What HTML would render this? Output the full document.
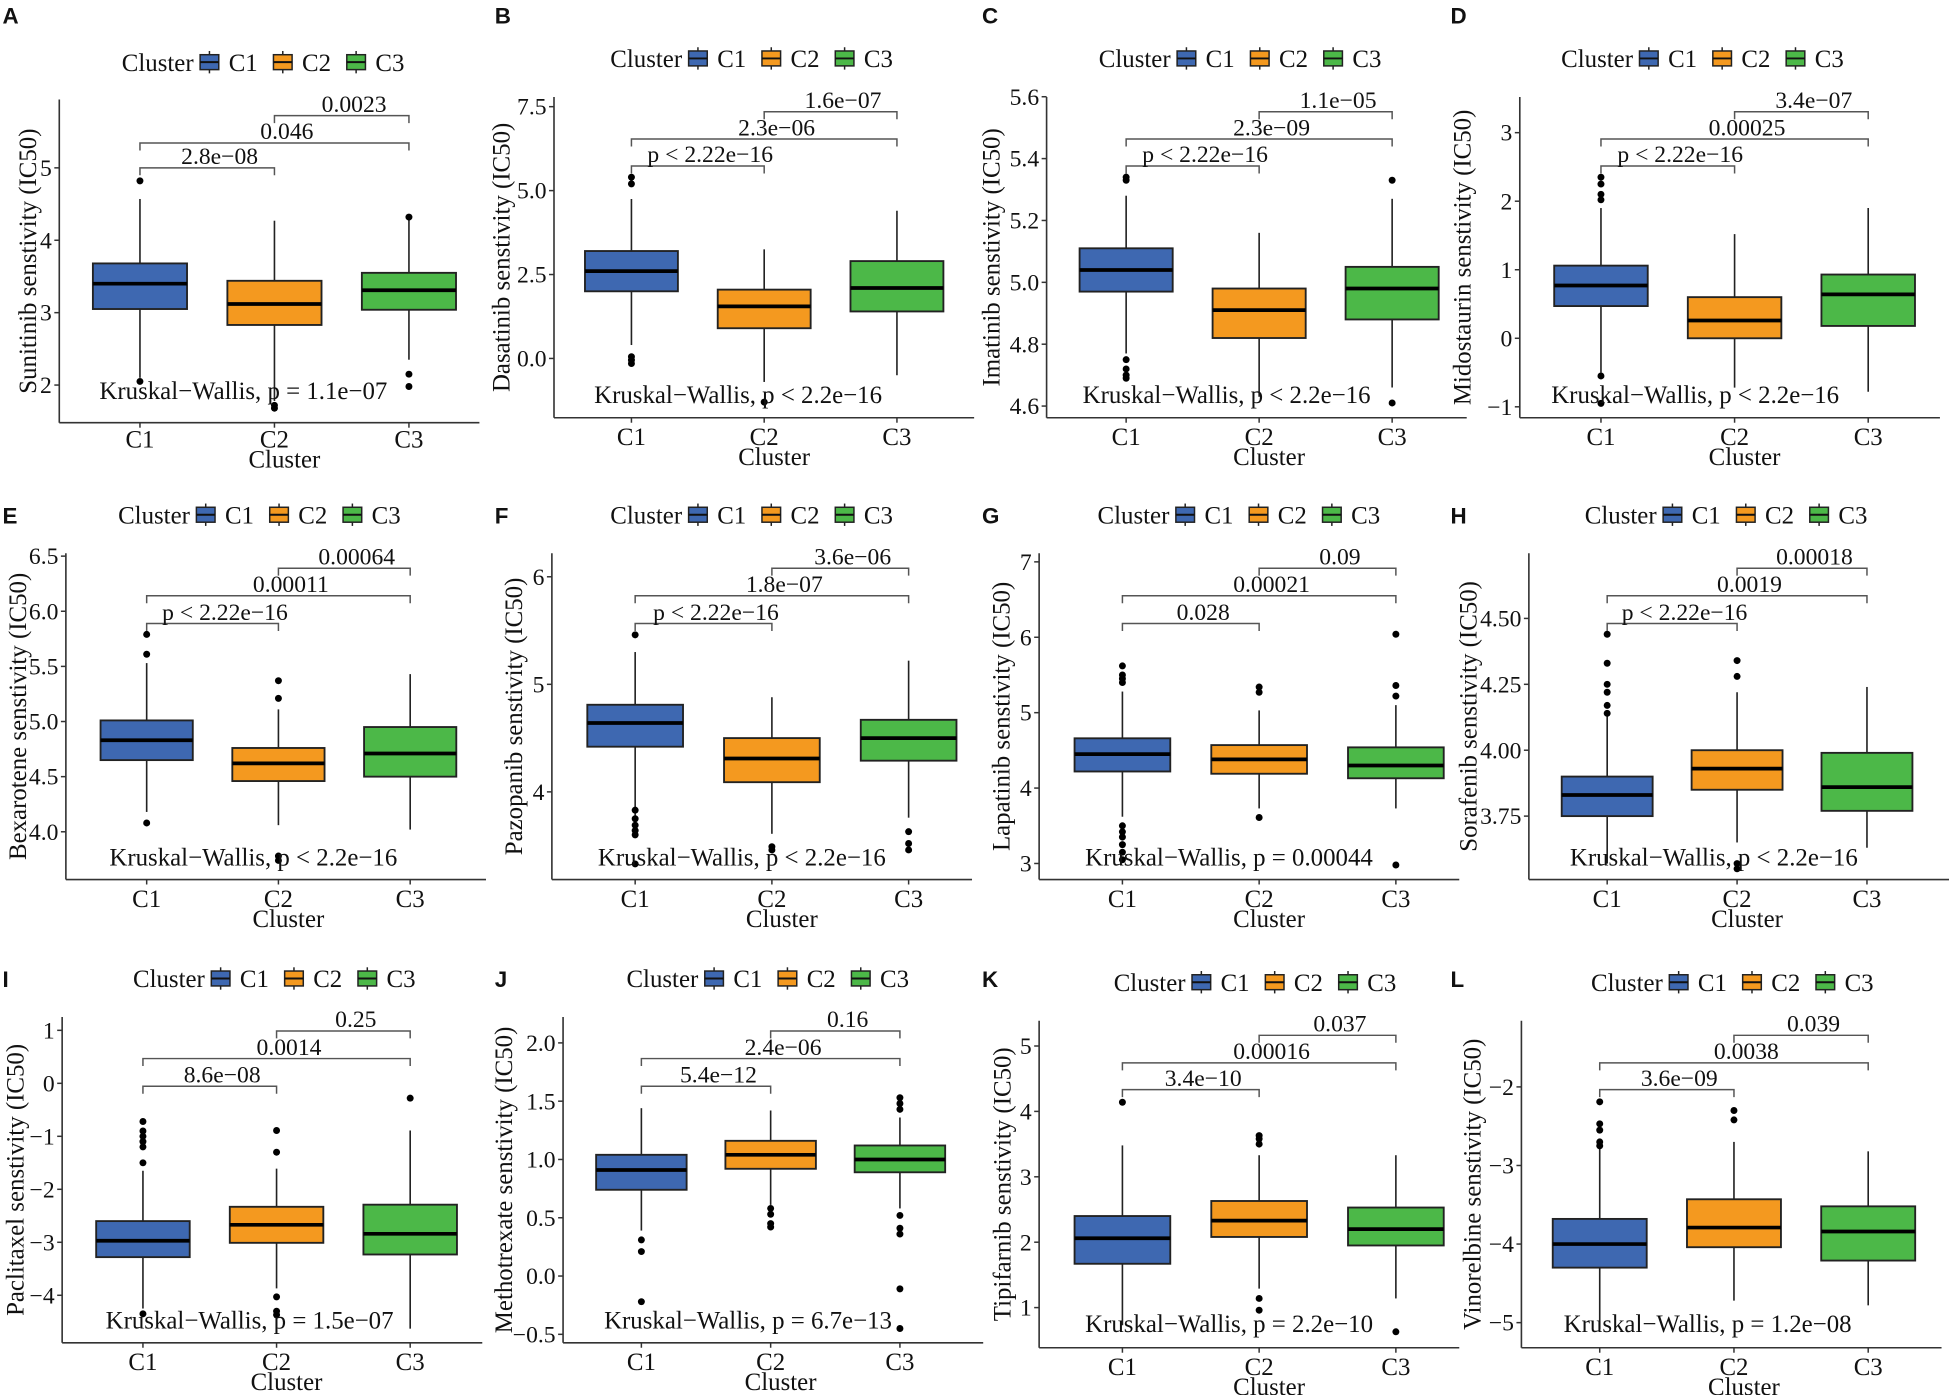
<!DOCTYPE html>
<html><head><meta charset="utf-8"><style>
html,body{margin:0;padding:0;background:#fff;}
svg{display:block;}
text{font-family:"Liberation Serif",serif;fill:#111;}
</style></head><body>
<svg id="fig" width="1949" height="1395" viewBox="0 0 1568 1122" preserveAspectRatio="none" xmlns="http://www.w3.org/2000/svg"></svg>
<script>
// ---------- data ----------
const categories = ['C1','C2','C3'];
const colors = ['#3E68B1','#F4991F','#4CB848'];
// box stats: [lowWhisker, q1, median, q3, highWhisker]
const sunitinibBox = [[2.1,3.05,3.4,3.68,4.57],[1.78,2.83,3.12,3.44,4.27],[2.35,3.04,3.31,3.55,4.3]];
const sunitinibOut = [[4.82,2.05],[1.72,1.68],[4.32,2.15,1.98]];
const sunitinibTicks = [2,3,4,5];
const sunitinibP = ['2.8e\u221208','0.046','0.0023','Kruskal\u2212Wallis, p = 1.1e\u221207'];

const dasatinibBox = [[0.4,2.0,2.6,3.2,4.75],[-0.7,0.9,1.55,2.05,3.25],[-0.5,1.4,2.1,2.9,4.4]];
const dasatinibOut = [[5.4,5.2,0.05,-0.05,-0.15],[-1.3],[]];
const dasatinibTicks = [0,2.5,5,7.5];
const dasatinibTickLabels = ['0.0','2.5','5.0','7.5'];
const dasatinibP = ['p < 2.22e\u221216','2.3e\u221206','1.6e\u221207','Kruskal\u2212Wallis, p < 2.2e\u221216'];

const imatinibBox = [[4.77,4.97,5.04,5.11,5.28],[4.63,4.82,4.91,4.98,5.16],[4.66,4.88,4.98,5.05,5.27]];
const imatinibOut = [[5.34,5.33,4.75,4.72,4.7,4.69],[],[5.33,4.61]];
const imatinibTicks = [4.6,4.8,5.0,5.2,5.4,5.6];
const imatinibTickLabels = ['4.6','4.8','5.0','5.2','5.4','5.6'];
const imatinibP = ['p < 2.22e\u221216','2.3e\u221209','1.1e\u221205','Kruskal\u2212Wallis, p < 2.2e\u221216'];

const midostaurinBox = [[-0.5,0.47,0.77,1.06,1.9],[-0.72,0.0,0.26,0.6,1.52],[-0.78,0.18,0.64,0.93,1.9]];
const midostaurinOut = [[2.35,2.25,2.1,2.02,-0.55,-0.95],[],[]];
const midostaurinTicks = [-1,0,1,2,3];
const midostaurinP = ['p < 2.22e\u221216','0.00025','3.4e\u221207','Kruskal\u2212Wallis, p < 2.2e\u221216'];

const bexaroteneBox = [[4.18,4.65,4.83,5.01,5.53],[4.06,4.46,4.62,4.76,5.11],[4.02,4.5,4.71,4.95,5.43]];
const bexaroteneOut = [[5.79,5.61,4.08],[5.37,5.21,3.78,3.74],[]];
const bexaroteneTicks = [4.0,4.5,5.0,5.5,6.0,6.5];
const bexaroteneTickLabels = ['4.0','4.5','5.0','5.5','6.0','6.5'];
const bexaroteneP = ['p < 2.22e\u221216','0.00011','0.00064','Kruskal\u2212Wallis, p < 2.2e\u221216'];

const pazopanibBox = [[3.66,4.42,4.64,4.81,5.3],[3.61,4.09,4.31,4.5,4.88],[3.76,4.29,4.5,4.67,5.22]];
const pazopanibOut = [[5.46,3.83,3.75,3.69,3.64,3.6,3.33],[3.49,3.46],[3.63,3.52,3.46]];
const pazopanibTicks = [4,5,6];
const pazopanibP = ['p < 2.22e\u221216','1.8e\u221207','3.6e\u221206','Kruskal\u2212Wallis, p < 2.2e\u221216'];

const lapatinibBox = [[3.62,4.22,4.45,4.66,5.28],[3.73,4.19,4.38,4.57,5.03],[3.73,4.13,4.3,4.54,5.1]];
const lapatinibOut = [[5.62,5.5,5.45,5.4,3.5,3.42,3.35,3.25,3.15,3.05],[5.34,5.27,3.61],[6.04,5.36,5.22,2.98]];
const lapatinibTicks = [3,4,5,6,7];
const lapatinibP = ['0.028','0.00021','0.09','Kruskal\u2212Wallis, p = 0.00044'];

const sorafenibBox = [[3.57,3.75,3.83,3.9,4.14],[3.65,3.85,3.93,4.0,4.22],[3.63,3.77,3.86,3.99,4.24]];
const sorafenibOut = [[4.44,4.33,4.25,4.22,4.17,4.14],[4.34,4.28,3.57,3.55],[]];
const sorafenibTicks = [3.75,4.0,4.25,4.5];
const sorafenibTickLabels = ['3.75','4.00','4.25','4.50'];
const sorafenibP = ['p < 2.22e\u221216','0.0019','0.00018','Kruskal\u2212Wallis, p < 2.2e\u221216'];

const paclitaxelBox = [[-4.25,-3.28,-2.97,-2.6,-1.65],[-3.87,-3.01,-2.67,-2.33,-1.61],[-4.63,-3.23,-2.84,-2.29,-0.89]];
const paclitaxelOut = [[-0.72,-0.9,-1.0,-1.1,-1.2,-1.5,-4.35],[-0.89,-1.3,-4.03,-4.3,-4.37],[-0.28]];
const paclitaxelTicks = [-4,-3,-2,-1,0,1];
const paclitaxelP = ['8.6e\u221208','0.0014','0.25','Kruskal\u2212Wallis, p = 1.5e\u221207'];

const methotrexateBox = [[0.39,0.74,0.91,1.04,1.44],[0.61,0.92,1.04,1.16,1.42],[0.58,0.89,1.0,1.12,1.36]];
const methotrexateOut = [[0.31,0.21,-0.22],[0.58,0.53,0.45,0.42],[1.53,1.48,1.43,0.52,0.41,0.36,-0.11,-0.45]];
const methotrexateTicks = [-0.5,0,0.5,1.0,1.5,2.0];
const methotrexateTickLabels = ['\u22120.5','0.0','0.5','1.0','1.5','2.0'];
const methotrexateP = ['5.4e\u221212','2.4e\u221206','0.16','Kruskal\u2212Wallis, p = 6.7e\u221213'];

const tipifarnibBox = [[0.73,1.67,2.06,2.4,3.48],[1.29,2.08,2.33,2.63,3.33],[1.14,1.95,2.2,2.53,3.33]];
const tipifarnibOut = [[4.14],[3.63,3.58,3.5,1.14,0.96],[0.63]];
const tipifarnibTicks = [1,2,3,4,5];
const tipifarnibP = ['3.4e\u221210','0.00016','0.037','Kruskal\u2212Wallis, p = 2.2e\u221210'];

const vinorelbineBox = [[-5.08,-4.3,-4.0,-3.68,-2.79],[-4.72,-4.04,-3.79,-3.43,-2.7],[-4.78,-4.21,-3.84,-3.52,-2.82]];
const vinorelbineOut = [[-2.19,-2.47,-2.55,-2.7,-2.75],[-2.3,-2.42],[]];
const vinorelbineTicks = [-5,-4,-3,-2];
const vinorelbineP = ['3.6e\u221209','0.0038','0.039','Kruskal\u2212Wallis, p = 1.2e\u221208'];

// ---------- layout (pixel geometry, not data) ----------
const panels = [
 {L:'A',lx:2,ly:19,title:'Sunitinib senstivity (IC50)',tx:22,ax:47.7,c1:112.6,step:108.2,top:80,bot:340,cal:[2,309.7,5,135],box:sunitinibBox,out:sunitinibOut,ticks:sunitinibTicks,p:sunitinibP,legX:98,legY:57,br:[135,115,93],kx:80,ky:321,xl:20},
 {L:'B',lx:398,ly:19,title:'Dasatinib senstivity (IC50)',tx:403,ax:445.7,c1:508,step:106.8,top:78,bot:336,cal:[0,288.3,7.5,85.8],box:dasatinibBox,out:dasatinibOut,ticks:dasatinibTicks,tl:dasatinibTickLabels,p:dasatinibP,legX:491,legY:54,br:[133.5,111.8,89.9],kx:478,ky:324,xl:22},
 {L:'C',lx:790,ly:19,title:'Imatinib senstivity (IC50)',tx:797,ax:842,c1:906,step:107,top:78,bot:336,cal:[4.6,326.6,5.6,77.8],box:imatinibBox,out:imatinibOut,ticks:imatinibTicks,tl:imatinibTickLabels,p:imatinibP,legX:884,legY:54,br:[133.5,111.8,89.9],kx:871,ky:324,xl:22},
 {L:'D',lx:1167,ly:19,title:'Midostaurin senstivity (IC50)',tx:1176,ax:1222.7,c1:1288,step:107.5,top:78,bot:336,cal:[-1,327.2,3,106.7],box:midostaurinBox,out:midostaurinOut,ticks:midostaurinTicks,p:midostaurinP,legX:1256,legY:54,br:[133.5,111.8,89.9],kx:1248,ky:324,xl:22},
 {L:'E',lx:2,ly:421,title:'Bexarotene senstivity (IC50)',tx:14,ax:53,c1:118,step:106,top:445,bot:707.4,cal:[4.0,669,6.5,447.3],box:bexaroteneBox,out:bexaroteneOut,ticks:bexaroteneTicks,tl:bexaroteneTickLabels,p:bexaroteneP,legX:95,legY:421,br:[501.5,479.2,457],kx:88,ky:696,xl:22},
 {L:'F',lx:398,ly:421,title:'Pazopanib senstivity (IC50)',tx:413,ax:444,c1:511,step:110,top:445,bot:707.4,cal:[4,636.9,6,463.9],box:pazopanibBox,out:pazopanibOut,ticks:pazopanibTicks,p:pazopanibP,legX:491,legY:421,br:[501.5,479.2,457],kx:481,ky:696,xl:22},
 {L:'G',lx:790,ly:421,title:'Lapatinib senstivity (IC50)',tx:805,ax:836,c1:903,step:110,top:445,bot:707.4,cal:[3,694.5,7,451.9],box:lapatinibBox,out:lapatinibOut,ticks:lapatinibTicks,p:lapatinibP,legX:883,legY:421,br:[501.5,479.2,457],kx:873,ky:696,xl:22},
 {L:'H',lx:1167,ly:421,title:'Sorafenib senstivity (IC50)',tx:1181,ax:1230,c1:1293,step:104.5,top:445,bot:707.4,cal:[3.75,656.4,4.5,497.4],box:sorafenibBox,out:sorafenibOut,ticks:sorafenibTicks,tl:sorafenibTickLabels,p:sorafenibP,legX:1275,legY:421,br:[501.5,479.2,457],kx:1263,ky:696,xl:22},
 {L:'I',lx:2,ly:794,title:'Paclitaxel senstivity (IC50)',tx:12,ax:50,c1:115,step:107.5,top:818,bot:1080,cal:[-4,1041.8,1,828.7],box:paclitaxelBox,out:paclitaxelOut,ticks:paclitaxelTicks,p:paclitaxelP,legX:107,legY:794,br:[873.7,851.4,829.2],kx:85,ky:1068.6,xl:22},
 {L:'J',lx:398,ly:794,title:'Methotrexate senstivity (IC50)',tx:405,ax:453,c1:516,step:104,top:818,bot:1080,cal:[-0.5,1073.2,2.0,838.8],box:methotrexateBox,out:methotrexateOut,ticks:methotrexateTicks,tl:methotrexateTickLabels,p:methotrexateP,legX:504,legY:794,br:[873.7,851.4,829.2],kx:486,ky:1068.6,xl:22},
 {L:'K',lx:790,ly:794,title:'Tipifarnib senstivity (IC50)',tx:806,ax:836,c1:903,step:110,top:821,bot:1084,cal:[1,1051.7,5,841.3],box:tipifarnibBox,out:tipifarnibOut,ticks:tipifarnibTicks,p:tipifarnibP,legX:896,legY:797,br:[876.4,854.9,832.7],kx:873,ky:1071.3,xl:22},
 {L:'L',lx:1167,ly:794,title:'Vinorelbine senstivity (IC50)',tx:1184,ax:1224,c1:1287,step:108,top:821,bot:1084,cal:[-5,1063.8,-2,874.2],box:vinorelbineBox,out:vinorelbineOut,ticks:vinorelbineTicks,p:vinorelbineP,legX:1280,legY:797,br:[876.4,854.9,832.7],kx:1258,ky:1071.3,xl:22}
];

const NS='http://www.w3.org/2000/svg';
const svg=document.getElementById('fig');
function mk(tag,attrs,parent,txt){const e=document.createElementNS(NS,tag);for(const k in attrs)e.setAttribute(k,attrs[k]);if(txt!==undefined)e.textContent=txt;parent.appendChild(e);return e;}
function fmt(v){return String(v).replace('-','\u2212');}

panels.forEach((P,pi)=>{
  const g=mk('g',{},svg);
  
  
  const y=v=>P.cal[1]+(v-P.cal[0])*(P.cal[3]-P.cal[1])/(P.cal[2]-P.cal[0]);
  const x=i=>P.c1+i*P.step;
  const bw=P.step*0.7;
  const lt=mk('text',{x:P.lx,y:P.ly,'font-size':18,'font-weight':'bold',style:'font-family:"Liberation Sans",sans-serif'},g,P.L);
  
  
  const lg=mk('g',{},g);
  
  
  mk('text',{x:P.legX,y:P.legY,'font-size':20},lg,'Cluster');
  let lx=P.legX+63;
  categories.forEach((c,i)=>{
    const kg=mk('g',{},lg);
    
    
    const cy=P.legY-7;
    mk('line',{x1:lx+7.5,x2:lx+7.5,y1:cy-9,y2:cy+9,stroke:'#222','stroke-width':1.2},kg);
    mk('rect',{x:lx,y:cy-6,width:15,height:12,fill:colors[i],stroke:'#222','stroke-width':1.2},kg);
    mk('line',{x1:lx,x2:lx+15,y1:cy,y2:cy,stroke:'#111','stroke-width':1.6},kg);
    mk('text',{x:lx+23,y:P.legY,'font-size':20},kg,c);
    lx+=59;
  });
  const ax=mk('g',{},g);
  
  
  mk('line',{x1:P.ax,x2:P.ax,y1:P.top,y2:P.bot,stroke:'#333','stroke-width':1.3},ax);
  mk('line',{x1:P.ax,x2:P.ax+338,y1:P.bot,y2:P.bot,stroke:'#333','stroke-width':1.3},ax);
  P.ticks.forEach((t,i)=>{
    const ty=y(t);
    mk('line',{x1:P.ax-4,x2:P.ax,y1:ty,y2:ty,stroke:'#333','stroke-width':1.2},ax);
    const lab=P.tl?P.tl[i]:fmt(t);
    const tt=mk('text',{x:P.ax-6,y:ty+6.5,'font-size':19,'text-anchor':'end'},ax,lab);
    
    
  });
  categories.forEach((c,i)=>{
    mk('line',{x1:x(i),x2:x(i),y1:P.bot,y2:P.bot+4,stroke:'#333','stroke-width':1.2},ax);
    const tt=mk('text',{x:x(i),y:P.bot+P.xl,'font-size':20,'text-anchor':'middle'},ax,c);
    
    
  });
  const xt=mk('text',{x:x(1)+8,y:P.bot+P.xl+16,'font-size':20,'text-anchor':'middle'},ax,'Cluster');
  
  
  const ym=(P.top+P.bot)/2;
  const yt=mk('text',{x:P.tx,y:ym,'font-size':20,'text-anchor':'middle',transform:'rotate(-90 '+P.tx+' '+ym+')',dy:'0.35em'},ax,P.title);
  
  
  P.box.forEach((b,i)=>{
    const bg=mk('g',{},g);
    
    
    const cx=x(i);
    mk('line',{x1:cx,x2:cx,y1:y(b[0]),y2:y(b[1]),stroke:'#222','stroke-width':1.3},bg);
    mk('line',{x1:cx,x2:cx,y1:y(b[3]),y2:y(b[4]),stroke:'#222','stroke-width':1.3},bg);
    mk('rect',{x:cx-bw/2,y:y(b[3]),width:bw,height:y(b[1])-y(b[3]),fill:colors[i],stroke:'#222','stroke-width':1.5},bg);
    mk('line',{x1:cx-bw/2,x2:cx+bw/2,y1:y(b[2]),y2:y(b[2]),stroke:'#000','stroke-width':3},bg);
    P.out[i].forEach(o=>{
      const d=mk('circle',{cx:cx,cy:y(o),r:2.8,fill:'#000'},bg);
      
      
    });
  });
  const pairs=[[0,1],[0,2],[1,2]];
  pairs.forEach((pr,k)=>{
    const bk=mk('g',{},g);
    
    
    const by=P.br[k],x1=x(pr[0]),x2=x(pr[1]);
    mk('polyline',{points:`${x1},${by+6} ${x1},${by} ${x2},${by} ${x2},${by+6}`,fill:'none',stroke:'#555','stroke-width':1.2},bk);
    mk('text',{x:(x1+x2)/2+10,y:by-3,'font-size':19,'text-anchor':'middle'},bk,P.p[k]);
  });
  const kw=mk('text',{x:P.kx,y:P.ky,'font-size':20},g,P.p[3]);
  
  
});
</script>
</body></html>
